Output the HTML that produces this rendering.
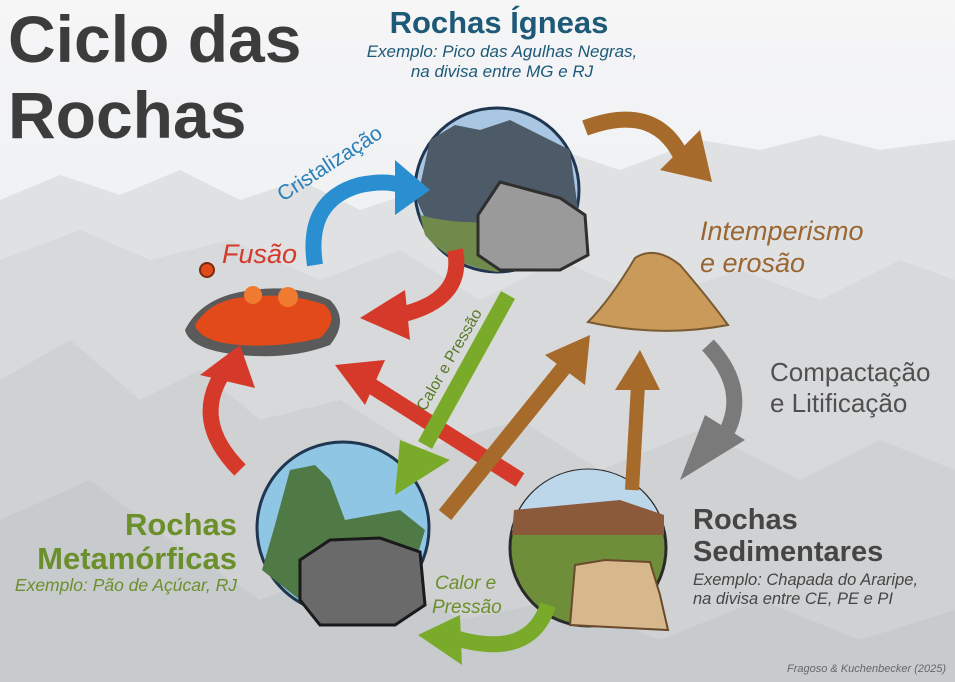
<!DOCTYPE html>
<html><head><meta charset="utf-8"><style>
html,body{margin:0;padding:0;width:955px;height:682px;overflow:hidden;background:#e8e9ec}
svg{display:block}
text{font-family:"Liberation Sans",sans-serif}
</style></head><body>
<svg width="955" height="682" viewBox="0 0 955 682" xmlns="http://www.w3.org/2000/svg">
<defs>
<linearGradient id="sky" x1="0" y1="0" x2="0" y2="1">
<stop offset="0" stop-color="#f4f4f5"/><stop offset="0.3" stop-color="#eceef1"/><stop offset="1" stop-color="#c9ccd0"/>
</linearGradient>
</defs>
<rect width="955" height="682" fill="url(#sky)"/>
<path d="M0 200 L60 175 L120 195 L180 170 L240 200 L300 180 L360 210 L420 190 L480 170 L560 150 L620 170 L700 140 L760 150 L820 135 L880 150 L955 140 L955 682 L0 682Z" fill="#d8dadd"/>
<path d="M0 260 L80 230 L150 260 L230 240 L320 280 L400 250 L480 300 L560 260 L650 300 L740 270 L820 300 L900 260 L955 280 L955 682 L0 682Z" fill="#cdd0d3"/>
<path d="M0 380 L70 340 L140 400 L200 370 L260 420 L340 400 L420 450 L520 420 L600 470 L700 430 L800 480 L880 440 L955 470 L955 682 L0 682Z" fill="#c3c6c9"/>
<path d="M0 520 L90 480 L170 540 L260 600 L360 560 L460 620 L560 600 L660 640 L760 600 L860 640 L955 610 L955 682 L0 682Z" fill="#b8bbbf" opacity="0.8"/>
<rect width="955" height="682" fill="#ffffff" opacity="0.2"/>

<text x="8" y="62" font-size="66" font-weight="bold" fill="#3c3c3c">Ciclo das</text>
<text x="8" y="138" font-size="66" font-weight="bold" fill="#3c3c3c">Rochas</text>

<text x="499" y="33" font-size="31" font-weight="bold" fill="#1e5a78" text-anchor="middle">Rochas Ígneas</text>
<text x="502" y="57" font-size="17" font-style="italic" fill="#1e5a78" text-anchor="middle">Exemplo: Pico das Agulhas Negras,</text>
<text x="502" y="77" font-size="17" font-style="italic" fill="#1e5a78" text-anchor="middle">na divisa entre MG e RJ</text>
<circle cx="497" cy="190" r="82" fill="#a9c7e2" stroke="#1f3550" stroke-width="3"/>
<path d="M417 200 L430 140 L455 125 L480 130 L510 120 L540 135 L570 150 L578 210 Q540 260 497 272 Q440 262 417 200Z" fill="#4d5a68"/>
<path d="M420 215 Q470 230 575 215 L570 235 Q530 268 497 272 Q450 265 425 235Z" fill="#6f8a4a"/>
<path d="M478 215 L500 182 L530 190 L560 198 L585 215 L588 255 L560 270 L500 270 L478 255Z" fill="#9a9a9a" stroke="#2f2f2f" stroke-width="3"/>

<text x="700" y="240" font-size="27" font-style="italic" fill="#9a6632">Intemperismo</text>
<text x="700" y="272" font-size="27" font-style="italic" fill="#9a6632">e erosão</text>
<path d="M588 322 Q610 300 635 258 Q655 245 680 265 Q710 300 728 325 Q660 338 588 322Z" fill="#c99a5a" stroke="#7a5a30" stroke-width="2"/>

<text x="770" y="381" font-size="26" fill="#505050">Compactação</text>
<text x="770" y="412" font-size="26" fill="#505050">e Litificação</text>

<circle cx="588" cy="548" r="78" fill="#6e8e3a" stroke="#2a2a2a" stroke-width="3"/>
<path d="M512 530 A78 78 0 0 1 664 530 Z" fill="#bcd6ea"/>
<path d="M514 510 L620 500 L664 515 L664 535 L512 535Z" fill="#8a5a3a"/>
<path d="M570 625 L575 565 L605 560 L650 562 L660 595 L668 630 Z" fill="#d6b88c" stroke="#6a4a2a" stroke-width="2"/>
<text x="693" y="529" font-size="29" font-weight="bold" fill="#454545">Rochas</text>
<text x="693" y="561" font-size="29" font-weight="bold" fill="#454545">Sedimentares</text>
<text x="693" y="585" font-size="16.5" font-style="italic" fill="#454545">Exemplo: Chapada do Araripe,</text>
<text x="693" y="604" font-size="16.5" font-style="italic" fill="#454545">na divisa entre CE, PE e PI</text>

<circle cx="343" cy="528" r="86" fill="#8ec6e4" stroke="#1f3550" stroke-width="3"/>
<path d="M275 525 L290 470 L315 465 L330 480 L345 520 L400 510 L425 530 L410 580 L300 600 L262 570Z" fill="#4f7a46"/>
<path d="M300 560 L330 540 L380 538 L420 552 L425 605 L395 625 L320 625 L300 600Z" fill="#6a6a6a" stroke="#1a1a1a" stroke-width="3"/>
<text x="237" y="535" font-size="31" font-weight="bold" fill="#6b8f2b" text-anchor="end">Rochas</text>
<text x="237" y="569" font-size="31" font-weight="bold" fill="#6b8f2b" text-anchor="end">Metamórficas</text>
<text x="237" y="591" font-size="17.5" font-style="italic" fill="#6b8f2b" text-anchor="end">Exemplo: Pão de Açúcar, RJ</text>

<text x="222" y="263" font-size="27" font-style="italic" fill="#d5392a">Fusão</text>
<path d="M185 330 Q200 300 240 292 Q290 282 330 300 Q350 320 330 345 Q290 360 240 355 Q190 350 185 330Z" fill="#5a5a5a"/>
<path d="M195 325 Q210 300 245 297 Q290 292 325 305 Q340 320 320 338 Q280 348 240 345 Q200 342 195 325Z" fill="#e24a1a"/>
<circle cx="207" cy="270" r="7" fill="#e24a1a" stroke="#7a2a10" stroke-width="2"/>
<circle cx="253" cy="295" r="9" fill="#f07a30"/><circle cx="288" cy="297" r="10" fill="#f07a30"/>

<text x="283" y="202" font-size="21" fill="#2a7fb8" transform="rotate(-33 283 202)">Cristalização</text>

<g stroke-linecap="butt" fill="none">
<path d="M315 265 Q305 200 360 185 Q385 180 400 185" stroke="#2a8fd0" stroke-width="16"/>
<polygon points="395,160 430,190 395,215" fill="#2a8fd0"/>
<path d="M455 250 Q465 300 400 315" stroke="#d5392a" stroke-width="16"/>
<polygon points="405,290 360,318 410,340" fill="#d5392a"/>
<path d="M585 128 Q660 100 685 165" stroke="#a66a2a" stroke-width="16"/>
<polygon points="660,170 712,182 700,130" fill="#a66a2a"/>
<path d="M708 345 Q750 390 725 435" stroke="#7a7a7a" stroke-width="16"/>
<polygon points="745,440 680,480 705,415" fill="#7a7a7a"/>
<path d="M240 470 Q190 420 225 370" stroke="#d5392a" stroke-width="16"/>
<polygon points="200,375 240,345 255,388" fill="#d5392a"/>
<path d="M520 480 L370 385" stroke="#d5392a" stroke-width="16"/>
<polygon points="335,365 385,360 365,405" fill="#d5392a"/>
<path d="M508 295 L425 445" stroke="#7aaa2a" stroke-width="16"/>
<polygon points="400,440 395,495 450,460" fill="#7aaa2a"/>
<path d="M445 515 L570 360" stroke="#a66a2a" stroke-width="16"/>
<polygon points="545,355 590,335 585,385" fill="#a66a2a"/>
<path d="M632 490 L638 385" stroke="#a66a2a" stroke-width="14"/>
<polygon points="615,390 640,350 660,390" fill="#a66a2a"/>
<path d="M548 605 Q530 660 455 638" stroke="#7aaa2a" stroke-width="16"/>
<polygon points="460,615 418,635 462,665" fill="#7aaa2a"/>
</g>
<text x="425" y="412" font-size="16" fill="#5a7a2a" transform="rotate(-60 425 412)">Calor e Pressão</text>
<text x="435" y="589" font-size="19" font-style="italic" fill="#6b8f2b">Calor e</text>
<text x="432" y="613" font-size="19" font-style="italic" fill="#6b8f2b">Pressão</text>

<text x="946" y="672" font-size="11" font-style="italic" fill="#666" text-anchor="end">Fragoso &amp; Kuchenbecker (2025)</text>
</svg>
</body></html>
